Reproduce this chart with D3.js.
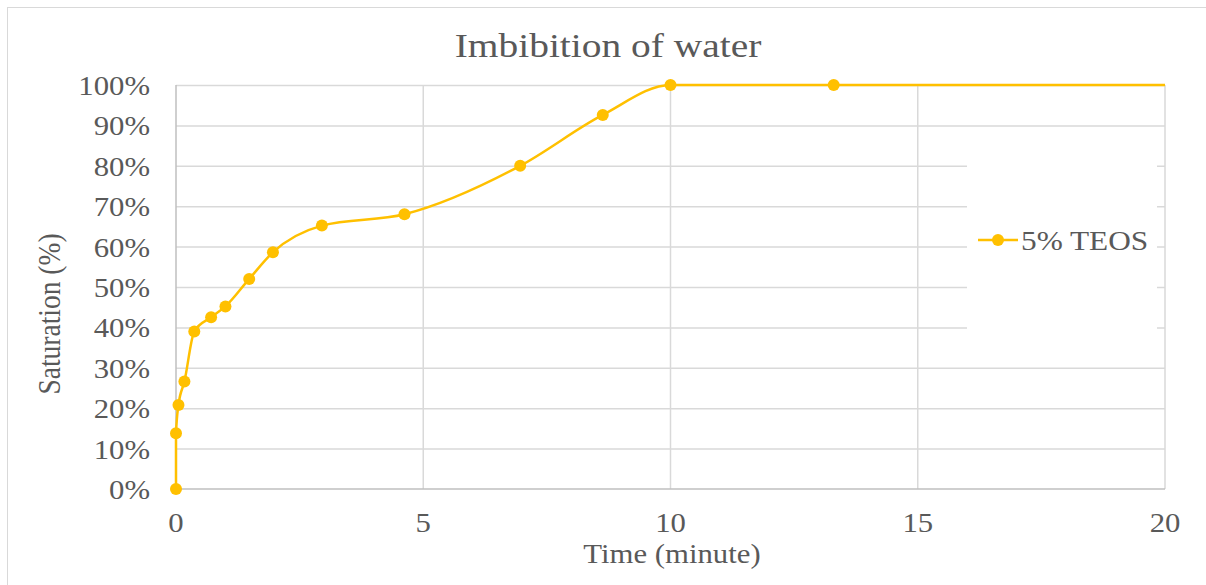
<!DOCTYPE html>
<html>
<head>
<meta charset="utf-8">
<script src="https://cdn.jsdelivr.net/npm/d3@7"></script>
<style>
  body { margin: 0; background: #fff; }
</style>
</head>
<body>
<svg width="1206" height="585"></svg>
<script>
// data
var times = [0, 0, 0.05, 0.17, 0.37, 0.71, 1.0, 1.48, 1.96, 2.95, 4.62, 6.96, 8.63, 10.0, 13.3, 25];
var saturation = [0, 13.8, 20.8, 26.6, 39.0, 42.5, 45.2, 52.0, 58.6, 65.2, 68.0, 80.0, 92.6, 100, 100, 100];
var xTicks = [0, 5, 10, 15, 20];
var yTicks = [0, 10, 20, 30, 40, 50, 60, 70, 80, 90, 100];
var seriesName = "5% TEOS";

var svg = d3.select("svg"),
    width = +svg.attr("width"),
    height = +svg.attr("height");

var FONT = "'Liberation Serif', 'Times New Roman', serif";
var stretch = 1.16; // the text in the picture is a bit wide
var pLeft = 176, pRight = 1165, pTop = 85, pBottom = 489;
var color = "#FFC000";

var x = d3.scaleLinear().domain([0, 20]).range([pLeft, pRight]);
var y = d3.scaleLinear().domain([0, 100]).range([pBottom, pTop]);

var pts = times.map(function(t, i) { return {t: t, s: saturation[i]}; });

function label(parent, tx, ty, str, size, anchor) {
  return parent.append("text")
      .attr("transform", "translate(" + tx + "," + ty + ") scale(" + stretch + ",1)")
      .attr("text-anchor", anchor || "middle")
      .style("font-family", FONT)
      .style("font-size", size + "px")
      .style("fill", "#595959")
      .text(str);
}

// outer chart border
svg.append("rect")
    .attr("x", 7.5).attr("y", 7.5)
    .attr("width", width + 10).attr("height", height + 10)
    .attr("fill", "#fff").attr("stroke", "#d9d9d9");

label(svg, 608, 57, "Imbibition of water", 34);

// gridlines
svg.append("g").selectAll("line")
    .data(yTicks.filter(function(d) { return d > 0; }))
  .enter().append("line")
    .attr("x1", pLeft).attr("x2", pRight)
    .attr("y1", function(d) { return y(d) + 0.5; })
    .attr("y2", function(d) { return y(d) + 0.5; })
    .attr("stroke", "#d9d9d9").attr("stroke-width", 1.5);

svg.append("g").selectAll("line")
    .data(xTicks.filter(function(d) { return d > 0; }))
  .enter().append("line")
    .attr("x1", function(d) { return x(d); })
    .attr("x2", function(d) { return x(d); })
    .attr("y1", pTop).attr("y2", pBottom)
    .attr("stroke", "#d9d9d9").attr("stroke-width", 1.5);

// axis lines
svg.append("line")
    .attr("x1", pLeft).attr("x2", pLeft).attr("y1", pTop).attr("y2", pBottom)
    .attr("stroke", "#bfbfbf").attr("stroke-width", 1.5);
svg.append("line")
    .attr("x1", pLeft).attr("x2", pRight).attr("y1", pBottom).attr("y2", pBottom)
    .attr("stroke", "#bfbfbf").attr("stroke-width", 1.5);

// tick labels
var yl = svg.append("g");
yTicks.forEach(function(d) { label(yl, 150, y(d) + 10, d + "%", 26.5, "end"); });
var xl = svg.append("g");
xTicks.forEach(function(d) { label(xl, x(d), 532, d, 26.5); });

label(svg, 672, 563, "Time (minute)", 26.5);

svg.append("text")
    .attr("transform", "translate(60,314) rotate(-90) scale(1,1.12)")
    .attr("text-anchor", "middle")
    .style("font-family", FONT)
    .style("font-size", "27.5px")
    .style("fill", "#595959")
    .text("Saturation (%)");

// series
svg.append("clipPath").attr("id", "plot")
  .append("rect").attr("x", pLeft - 10).attr("y", pTop - 10)
    .attr("width", pRight - pLeft + 10).attr("height", pBottom - pTop + 20);

var line = d3.line()
    .x(function(d) { return x(d.t); })
    .y(function(d) { return y(d.s); })
    .curve(d3.curveMonotoneX);

var g = svg.append("g").attr("clip-path", "url(#plot)");
g.append("path")
    .datum(pts)
    .attr("d", line)
    .attr("fill", "none")
    .attr("stroke", color)
    .attr("stroke-width", 2.5);

g.selectAll("circle")
    .data(pts.filter(function(d) { return d.t <= 20; }))
  .enter().append("circle")
    .attr("cx", function(d) { return x(d.t); })
    .attr("cy", function(d) { return y(d.s); })
    .attr("r", 6)
    .attr("fill", color);

// legend box (covers gridlines)
var lg = svg.append("g");
lg.append("rect")
    .attr("x", 967).attr("y", 146).attr("width", 190).attr("height", 200)
    .attr("fill", "#fff");
lg.append("line")
    .attr("x1", 978).attr("x2", 1018).attr("y1", 240).attr("y2", 240)
    .attr("stroke", color).attr("stroke-width", 2.5);
lg.append("circle")
    .attr("cx", 998).attr("cy", 240).attr("r", 6).attr("fill", color);
label(lg, 1021, 250, seriesName, 27, "start");
</script>
</body>
</html>
